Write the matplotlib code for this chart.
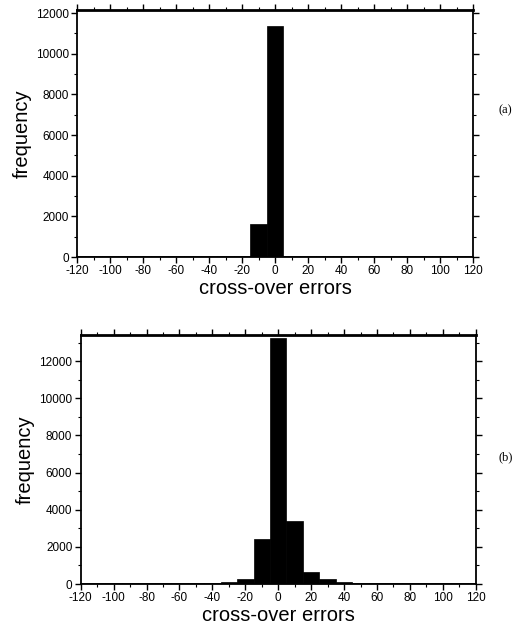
import numpy as np
import matplotlib
matplotlib.use('Agg')
import matplotlib.pyplot as plt
from matplotlib.ticker import MultipleLocator

plt.rcParams['font.family'] = ['Liberation Sans', 'DejaVu Sans']
plt.rcParams['axes.unicode_minus'] = False

# bin centres of the cross-over error histograms (bin width 10)
centres = np.arange(-120, 121, 10)
counts_a = [30, 30, 30, 30, 30, 30, 30, 30, 30, 35, 45, 1650, 11350,
            60, 40, 30, 30, 30, 30, 30, 30, 30, 30, 30, 30]
counts_b = [40, 40, 40, 50, 60, 60, 60, 70, 80, 120, 250, 2430, 13250, 3400,
            630, 250, 100, 80, 80, 70, 60, 60, 60, 60, 60]
xticks = np.arange(-120, 121, 20)

fig = plt.figure(figsize=(5.24, 6.3), dpi=100)
ax1 = fig.add_axes([0.147, 0.592, 0.756, 0.392])
ax2 = fig.add_axes([0.154, 0.073, 0.754, 0.395])

def draw(ax, counts, ymax, yticks, tag, tag_y):
    ax.bar(centres, counts, width=10, color='black', edgecolor='black', linewidth=0.5)
    ax.set_xlim(-120, 120)
    ax.set_ylim(0, ymax)
    ax.set_xticks(xticks)
    ax.set_yticks(yticks)
    ax.xaxis.set_minor_locator(MultipleLocator(10))
    ax.yaxis.set_minor_locator(MultipleLocator(1000))
    ax.tick_params(which='both', direction='out', top=True, right=True, labelsize=8.5)
    ax.tick_params(which='major', length=4, width=1, pad=2)
    ax.tick_params(which='minor', length=2, width=0.8)
    for s in ax.spines.values():
        s.set_linewidth(1.3)
    ax.spines['top'].set_linewidth(2)
    ax.set_xlabel('cross-over errors', fontsize=14.5, labelpad=1)
    ax.set_ylabel('frequency', fontsize=14.5, labelpad=3)
    fig.text(0.965, tag_y, tag, fontsize=9, family='Liberation Serif', ha='center', va='center')

draw(ax1, counts_a, 12150, np.arange(0, 12001, 2000), '(a)', 1 - 110 / 630)
draw(ax2, counts_b, 13400, np.arange(0, 12001, 2000), '(b)', 1 - 457 / 630)

fig.savefig('out.png', dpi=100)
